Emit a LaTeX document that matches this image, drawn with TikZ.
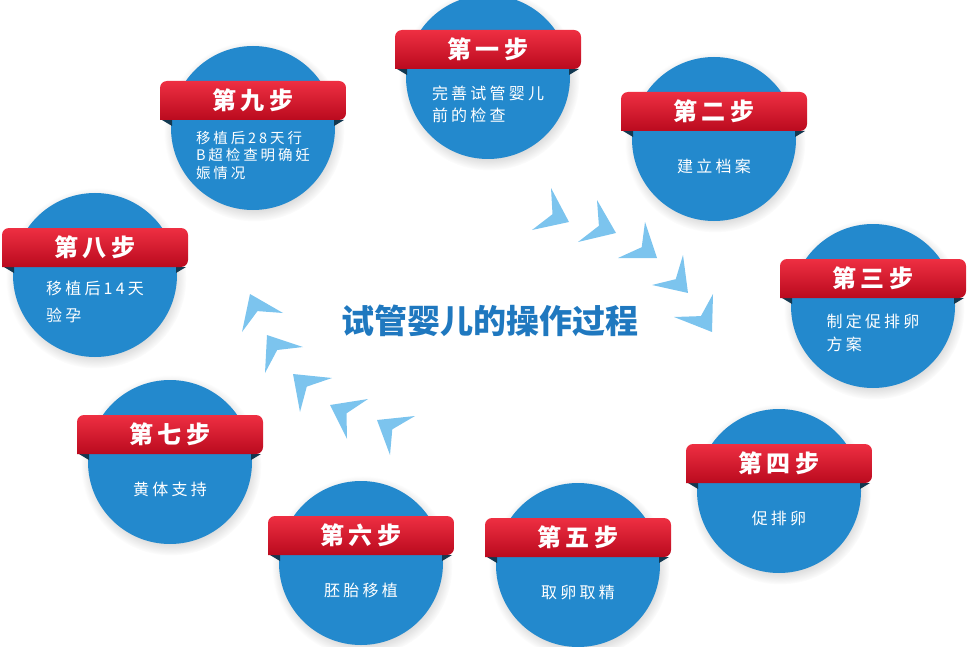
\documentclass[tikz,border=0pt]{standalone}
\usepackage{fontspec}
\setmainfont{Noto Sans CJK SC}
\newfontfamily\bandfont[LetterSpace=20]{Noto Sans CJK SC}
\newfontfamily\stepfont[LetterSpace=20]{Noto Sans CJK SC}
\usetikzlibrary{calc, shadows}
\definecolor{circblue}{HTML}{2389CD}
\definecolor{arrowblue}{HTML}{7CC4EE}
\definecolor{titleblue}{HTML}{1F78BF}
\definecolor{bandtop}{HTML}{EE2F42}
\definecolor{bandbot}{HTML}{BA0A1E}
\definecolor{folddark}{HTML}{123850}
\tikzset{
  stepcirc/.style={circle, fill=circblue, minimum size=164pt, inner sep=0pt,
    circular drop shadow={shadow xshift=1pt, shadow yshift=-3pt, opacity=.15, fill=black}},
  band/.style={top color=bandtop, bottom color=bandbot},
  steptitle/.style={text=white, font=\bandfont\bfseries\fontsize{24}{24}\selectfont},
  steptext/.style 2 args={text=white, align=left, font=\stepfont\fontsize{#1}{#2}\selectfont},
  dart/.style={fill=arrowblue}
}
\newcommand\dart[6]{%
  \coordinate (m) at ($(#3,#4)!.5!(#5,#6)$);
  \fill[dart] (#1,#2) -- (#3,#4) -- ($(#1,#2)!.6!(m)$) -- (#5,#6) -- cycle;}

\begin{document}
\begin{tikzpicture}[x=1pt, y=-1pt]
    \useasboundingbox (0,0) rectangle (971,647);
    % the nine steps
    \foreach \n/\cx/\cy/\ttl/\txt/\fs/\ls in {
        1/488/77/第一步/{完善试管婴儿\\前的检查}/16/22,
        2/714/139/第二步/{建立档案}/16/22,
        3/873/306/第三步/{制定促排卵\\方案}/16/23,
        4/779/491/第四步/{促排卵}/16/22,
        5/578/565/第五步/{取卵取精}/16/22,
        6/361/563/第六步/{胚胎移植}/16/22,
        7/170/462/第七步/{黄体支持}/16/22,
        8/95/275/第八步/{移植后14天\\验孕}/16/27,
        9/253/128/第九步/{移植后28天行\\B超检查明确妊\\娠情况}/14.5/17.5}{
        \node[stepcirc] (s\n) at (\cx,\cy) {};
        \fill[folddark] ($(s\n)+(-91,-8)$) -- ($(s\n)+(-81,-8)$) -- ($(s\n)+(-81,-2)$) -- cycle;
        \fill[folddark] ($(s\n)+(91,-8)$) -- ($(s\n)+(81,-8)$) -- ($(s\n)+(81,-2)$) -- cycle;
        \shade[band] ($(s\n)+(-93,-8)$) [rounded corners=7] -- ($(s\n)+(-93,-47)$)
            -- ($(s\n)+(93,-47)$) -- ($(s\n)+(93,-8)$) [sharp corners] -- cycle;
        \node[steptitle] (t\n) at ($(s\n)+(0,-28)$) {\ttl};
        \node[steptext={\fs}{\ls}] (d\n) at ($(s\n)+(0,27)$) {\txt};
    }
    \node[text=titleblue, font=\bfseries\fontsize{33}{33}\selectfont] (title) at (490,321) {试管婴儿的操作过程};
    % arrows, right and left
    \foreach \tx/\ty/\ax/\ay/\bx/\by in {569/222/551/188/532/230, 616/233/597/200/578/242,
        657/258/645/222/618/258, 688/293/683/255/652/285, 712/332/713/294/674/317,
        250/294/283/313/242/332, 267/335/303/347/265/373, 293/374/332/378/300/412,
        330/405/368/399/347/439, 377/420/415/416/390/455}
        \dart{\tx}{\ty}{\ax}{\ay}{\bx}{\by};
\end{tikzpicture}
\end{document}
